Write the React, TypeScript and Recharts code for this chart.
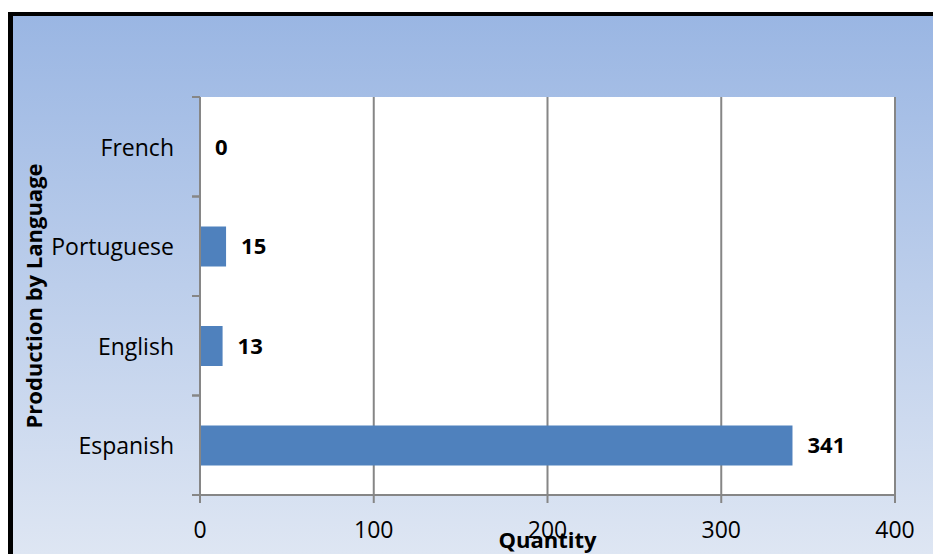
import { BarChart, Bar, XAxis, YAxis, CartesianGrid, LabelList, Label } from "recharts";

const languages = ["French", "Portuguese", "English", "Espanish"];
const quantities = [0, 15, 13, 341];
const quantityTicks = [0, 100, 200, 300, 400];

const data = languages.map((name, i) => ({ name, value: quantities[i] }));

const W = 933;
const H = 554;
const MARGIN = { top: 97, right: 38, bottom: 0, left: 0 };
const X_AXIS_H = 59;
const Y_AXIS_W = 200;
const PLOT_H = H - MARGIN.top - X_AXIS_H;
const FONT = "'Open Sans', sans-serif";
const AXIS_GRAY = "#868686";

// category label plus Excel-style tick marks on the band boundaries
// eslint-disable-next-line @typescript-eslint/no-explicit-any
const LanguageTick = ({ x, y, payload }: any) => {
  const half = PLOT_H / languages.length / 2;
  const axisX = MARGIN.left + Y_AXIS_W;
  return (
    <g>
      <line x1={axisX - 8} x2={axisX} y1={y - half} y2={y - half} stroke={AXIS_GRAY} strokeWidth={2} />
      <line x1={axisX - 8} x2={axisX} y1={y + half} y2={y + half} stroke={AXIS_GRAY} strokeWidth={2} />
      <text x={x} y={y} textAnchor="end" dominantBaseline="central" fontSize={23} fill="#000" fontFamily={FONT}>
        {payload.value}
      </text>
    </g>
  );
};

export default function App() {
  return (
    <div
      style={{
        position: "absolute",
        left: 0,
        top: 0,
        width: W,
        height: H,
        background: "#fff",
        overflow: "hidden",
      }}
    >
      <div
        style={{
          position: "absolute",
          left: 8,
          top: 12,
          right: 0,
          bottom: 0,
          borderLeft: "5px solid #000",
          borderTop: "4px solid #000",
          background: "linear-gradient(to bottom, #9ab6e3 0%, #dee6f3 100%)",
        }}
      />
      <div style={{ position: "absolute", left: 0, top: 0 }}>
        <BarChart
          width={W}
          height={H}
          data={data}
          layout="vertical"
          margin={MARGIN}
          barCategoryGap={30}
          style={{ fontFamily: FONT }}
        >
          <CartesianGrid horizontal={false} stroke={AXIS_GRAY} strokeWidth={2} fill="#fff" />
          <XAxis
            type="number"
            domain={[0, 400]}
            ticks={quantityTicks}
            height={X_AXIS_H}
            stroke={AXIS_GRAY}
            strokeWidth={2}
            tickSize={8}
            tickMargin={19}
            tick={{ fill: "#000", fontSize: 23, fontFamily: FONT }}
          >
            <Label
              content={({ viewBox }: any) => (
                <text
                  x={viewBox.x + viewBox.width / 2}
                  y={548}
                  textAnchor="middle"
                  fontSize={22}
                  fontWeight="bold"
                  fill="#000"
                  fontFamily={FONT}
                >
                  Quantity
                </text>
              )}
            />
          </XAxis>
          <YAxis
            type="category"
            dataKey="name"
            width={Y_AXIS_W}
            stroke={AXIS_GRAY}
            strokeWidth={2}
            tickLine={false}
            tickSize={8}
            tickMargin={18}
            tick={<LanguageTick />}
          >
            <Label
              content={({ viewBox }: any) => {
                const cy = viewBox.y + viewBox.height / 2;
                return (
                  <text
                    x={33}
                    y={cy}
                    transform={`rotate(-90, 33, ${cy})`}
                    textAnchor="middle"
                    dominantBaseline="central"
                    fontSize={22}
                    fontWeight="bold"
                    fill="#000"
                    fontFamily={FONT}
                  >
                    Production by Language
                  </text>
                );
              }}
            />
          </YAxis>
          {/* tiny minPointSize keeps the zero bar (and its "0" label) in the render */}
          <Bar dataKey="value" fill="#4f81bd" minPointSize={0.01} isAnimationActive={false}>
            <LabelList
              dataKey="value"
              position="right"
              offset={15}
              fill="#000"
              fontSize={22}
              fontWeight="bold"
              fontFamily={FONT}
            />
          </Bar>
        </BarChart>
      </div>
    </div>
  );
}
